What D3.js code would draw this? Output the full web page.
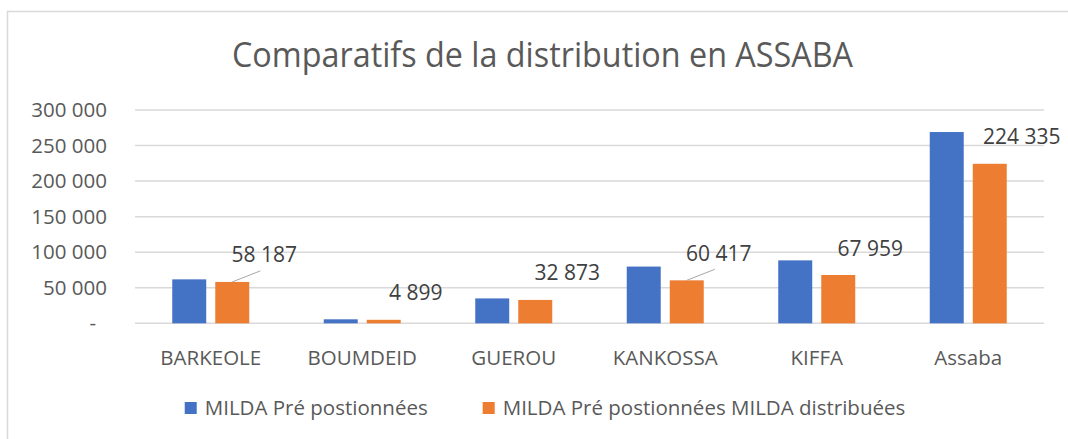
<!DOCTYPE html>
<html>
<head>
<meta charset="utf-8">
<script src="https://cdn.jsdelivr.net/npm/d3@7"></script>
<style>
  body { margin: 0; background: #fff; }
  svg { display: block; font-family: "Open Sans", sans-serif; }
</style>
</head>
<body>
<svg class="main"></svg>
<script>
var width = 1068,
    height = 439,
    titleText = 'Comparatifs de la distribution en ASSABA',
    textColor = '#595959',
    labelColor = '#404040',
    gridColor = '#d9d9d9',
    blueFill = '#4472C4',
    orangeFill = '#ED7D31';

// data
var categories = ['BARKEOLE', 'BOUMDEID', 'GUEROU', 'KANKOSSA', 'KIFFA', 'Assaba'];
var seriesNames = ['MILDA Pré postionnées', 'MILDA Pré postionnées MILDA distribuées'];
var prePositioned = [61800, 5600, 35000, 79800, 88500, 269000];
var distributed = [58187, 4899, 32873, 60417, 67959, 224335];
var yTicks = [0, 50000, 100000, 150000, 200000, 250000, 300000];
var leaderFor = ['BARKEOLE', 'KANKOSSA'];

var svg = d3.select('.main')
    .attr('width', width)
    .attr('height', height);

// chart area border (left + top only visible)
svg.append('path')
    .attr('d', 'M7.5,' + height + 'V11.5H' + width)
    .attr('fill', 'none')
    .attr('stroke', gridColor)
    .attr('stroke-width', 1.5);

svg.append('text')
    .attr('x', 232)
    .attr('y', 67)
    .attr('textLength', 621)
    .attr('lengthAdjust', 'spacingAndGlyphs')
    .style('font-size', '35px')
    .style('fill', textColor)
    .text(titleText);

var x0 = d3.scaleBand()
    .domain(categories)
    .range([135, 1044]);

var x1 = d3.scaleBand()
    .domain(seriesNames)
    .range([(x0.bandwidth() - 77) / 2, (x0.bandwidth() + 77) / 2])
    .paddingInner(0.21);

var y = d3.scaleLinear()
    .domain([0, 300000])
    .range([323.3, 110]);

var fmt = function(v) {
    if (v === 0) return '-';
    return d3.format(',')(v).replace(/,/g, ' ');
};

// gridlines
svg.append('g')
    .selectAll('line')
    .data(yTicks)
    .enter().append('line')
    .attr('x1', x0.range()[0])
    .attr('x2', x0.range()[1])
    .attr('y1', d => y(d))
    .attr('y2', d => y(d))
    .attr('stroke', gridColor)
    .attr('stroke-width', 1.5);

// y axis labels
var yAxis = d3.axisLeft(y)
    .tickValues(yTicks)
    .tickFormat(fmt)
    .tickSize(0)
    .tickPadding(0);

var gY = svg.append('g')
    .attr('transform', 'translate(107,0)')
    .call(yAxis);
gY.select('.domain').remove();
gY.selectAll('text')
    .style('font-size', '20.5px')
    .style('font-family', '"Open Sans", sans-serif')
    .style('fill', textColor)
    .attr('dx', d => d === 0 ? -11 : 0);

// x axis labels
svg.append('g')
    .selectAll('text')
    .data(categories)
    .enter().append('text')
    .attr('x', d => x0(d) + x0.bandwidth() / 2)
    .attr('y', 365)
    .attr('text-anchor', 'middle')
    .style('font-size', '20.5px')
    .style('fill', textColor)
    .text(d => d);

// bars
var rows = categories.map(function(c, i) {
    return { cat: c, values: [prePositioned[i], distributed[i]] };
});

var groups = svg.append('g')
    .selectAll('g')
    .data(rows)
    .enter().append('g')
    .attr('transform', d => 'translate(' + x0(d.cat) + ',0)');

groups.selectAll('rect')
    .data(d => d.values.map((v, k) => ({ name: seriesNames[k], value: v, k: k })))
    .enter().append('rect')
    .attr('x', d => x1(d.name))
    .attr('width', x1.bandwidth())
    .attr('y', d => y(d.value))
    .attr('height', d => y(0) - y(d.value))
    .attr('fill', d => d.k === 0 ? blueFill : orangeFill);

// data labels for second series
var labelDx = 32,
    labelDy = -27;

var labels = svg.append('g')
    .selectAll('g')
    .data(rows)
    .enter().append('g');

labels.filter(d => leaderFor.indexOf(d.cat) !== -1)
    .append('line')
    .attr('x1', d => x0(d.cat) + x1(seriesNames[1]) + x1.bandwidth() / 2)
    .attr('y1', d => y(d.values[1]))
    .attr('x2', d => x0(d.cat) + x1(seriesNames[1]) + x1.bandwidth() / 2 + labelDx - 4)
    .attr('y2', d => y(d.values[1]) + labelDy + 16)
    .attr('stroke', '#a6a6a6')
    .attr('stroke-width', 1);

labels.append('text')
    .attr('x', d => x0(d.cat) + x1(seriesNames[1]) + x1.bandwidth() / 2 + labelDx)
    .attr('y', d => y(d.values[1]) + labelDy)
    .attr('dy', '0.36em')
    .attr('text-anchor', 'middle')
    .style('font-size', '21px')
    .style('fill', labelColor)
    .text(d => fmt(d.values[1]));

// legend
var legend = svg.append('g');
var legendColors = [blueFill, orangeFill];
var cursor = 0;
seriesNames.forEach(function(name, i) {
    var item = legend.append('g').attr('transform', 'translate(' + cursor + ',0)');
    item.append('rect')
        .attr('x', 0)
        .attr('y', -13)
        .attr('width', 12)
        .attr('height', 12)
        .attr('fill', legendColors[i]);
    var t = item.append('text')
        .attr('x', 20)
        .attr('y', 0)
        .style('font-size', '20.5px')
        .style('fill', textColor)
        .text(name);
    cursor += 20 + t.node().getComputedTextLength() + 55;
});
var legendWidth = cursor - 55;
legend.attr('transform', 'translate(' + (545 - legendWidth / 2) + ',415)');
</script>
</body>
</html>
